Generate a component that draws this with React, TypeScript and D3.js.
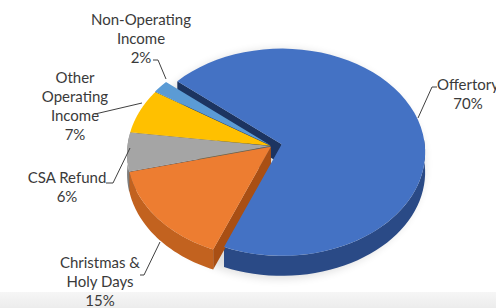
import React from 'react';
import * as d3 from 'd3';

const categories = ['Offertory', 'Christmas & Holy Days', 'CSA Refund', 'Other Operating Income', 'Non-Operating Income'];
const values = [70, 15, 6, 7, 2];
const labelLines = [['Offertory', '70%'], ['Christmas &', 'Holy Days', '15%'], ['CSA Refund', '6%'], ['Other', 'Operating', 'Income', '7%'], ['Non-Operating', 'Income', '2%']];
const topColors = ['#4472c4', '#ed7d31', '#a5a5a5', '#ffc000', '#5b9bd5'];
const sideColors = ['#2a4a86', '#c2621f', '#7d7d7d', '#bf9000', '#3a78b2'];
const wallColors = ['#1c3461', '#a94f14', '#5f5f5f', '#8f6c00', '#2b5f90'];

const W = 496;
const H = 308;
const cx = 272;
const cy = 146;
const rx = 143;
const ry = 103;
const depth = 20;
const persp = 0.077;
const explode = [10, 1.5, 1.5, 1.5, 2];

// label anchors (text centre x, first baseline) and leader polylines
const labelPos: [number, number][] = [[468, 90], [100, 268], [67, 183], [75, 83], [141, 25]];
const leaders: [number, number][][] = [
  [[437, 87], [432, 87], [418, 118]],
  [[140, 275], [144, 275], [160, 242]],
  [[106, 183], [113, 183], [130, 148]],
  [[95, 114], [142, 103]],
  [[153, 60], [158, 60], [166, 79]],
];

function project(ox: number, oy: number, a: number, r: number): [number, number] {
  const u = Math.sin(a);
  const v = Math.cos(a);
  const s = 1 / (1 + persp * v);
  return [ox + rx * u * r * s, oy - ry * v * r * s];
}

export default function App() {
  const pie = d3
    .pie<number>()
    .sort(null)
    .startAngle((-50 * Math.PI) / 180)
    .endAngle((310 * Math.PI) / 180);
  const arcs = pie(values);
  const line = d3.line();

  const slices = arcs.map((d, i) => {
    const mid = (d.startAngle + d.endAngle) / 2;
    const ox = cx + explode[i] * Math.sin(mid);
    const oy = cy - explode[i] * Math.cos(mid) * (ry / rx);
    const steps = d3.range(0, 61).map((k) => d.startAngle + ((d.endAngle - d.startAngle) * k) / 60);
    const rim = steps.map((a) => project(ox, oy, a, 1));
    const top = line([[ox, oy], ...rim])! + 'Z';

    // outer wall, only the part that faces the viewer
    const lo = Math.max(d.startAngle, Math.PI / 2 - 0.05);
    const hi = Math.min(d.endAngle, (3 * Math.PI) / 2 + 0.12);
    let wall: string | null = null;
    if (hi > lo) {
      const ws = d3.range(0, 41).map((k) => lo + ((hi - lo) * k) / 40);
      const up = ws.map((a) => project(ox, oy, a, 1));
      const down = ws.map((a) => project(ox, oy + depth, a, 1)).reverse();
      wall = line([...up, ...down])! + 'Z';
    }
    // start face (visible for every slice here)
    const e = project(ox, oy, d.startAngle, 1);
    const face = line([[ox, oy], e, [e[0], e[1] + depth], [ox, oy + depth]])! + 'Z';
    return { i, top, wall, face, key: Math.cos(mid) };
  });

  const order = [...slices].sort((a, b) => b.key - a.key);

  return (
    <svg width={W} height={H} style={{ position: 'absolute', left: 0, top: 0, background: '#fff' }}>
      <defs>
        <filter id="blur" x="-20%" y="-20%" width="140%" height="140%">
          <feGaussianBlur stdDeviation="4" />
        </filter>
        <linearGradient id="band" x1="0" y1="0" x2="0" y2="1">
          <stop offset="0" stopColor="#f6f6f6" />
          <stop offset="1" stopColor="#ececec" />
        </linearGradient>
      </defs>
      <rect x={0} y={292} width={W} height={H - 292} fill="url(#band)" />
      <ellipse cx={cx + 8} cy={cy + 18} rx={rx + 2} ry={ry + 12} fill="#000" opacity={0.12} filter="url(#blur)" />
      {order.map((s) => (
        <g key={'w' + s.i}>
          {s.wall && <path d={s.wall} fill={sideColors[s.i]} />}
          <path d={s.face} fill={wallColors[s.i]} />
        </g>
      ))}
      {slices.map((s) => (
        <path key={'t' + s.i} d={s.top} fill={topColors[s.i]} />
      ))}
      {leaders.map((pts, i) => (
        <path key={'l' + i} d={line(pts)!} fill="none" stroke="#404040" strokeWidth={1} />
      ))}
      {labelLines.map((lines, i) => (
        <text
          key={'t' + i}
          x={labelPos[i][0]}
          y={labelPos[i][1]}
          textAnchor="middle"
          fontFamily="Lato, 'Open Sans', sans-serif"
          fontSize={15}
          fill="#3a3a3a"
          aria-label={categories[i]}
        >
          {lines.map((t, k) => (
            <tspan key={k} x={labelPos[i][0]} dy={k === 0 ? 0 : 19}>
              {t}
            </tspan>
          ))}
        </text>
      ))}
    </svg>
  );
}
